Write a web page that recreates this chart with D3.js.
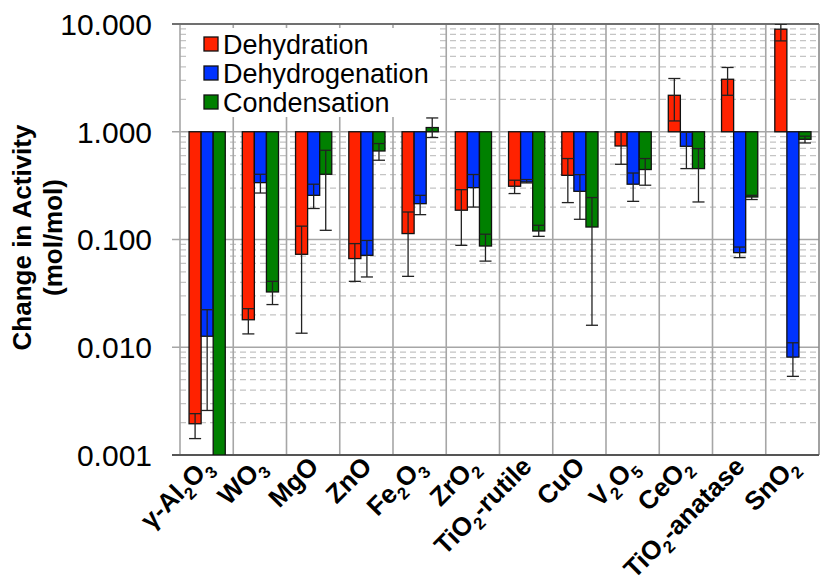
<!DOCTYPE html>
<html>
<head>
<meta charset="utf-8">
<script src="https://cdn.jsdelivr.net/npm/d3@7"></script>
<style>
  body { margin: 0; background: #fff; }
  svg { display: block; font-family: "Liberation Sans", Arial, Helvetica, sans-serif; }
</style>
</head>
<body>
<div id="chart"></div>
<script>
////////////////////////////  Data  ////////////////////////////
// "_n" = subscript digit
const categories = ["γ-Al_2O_3", "WO_3", "MgO", "ZnO", "Fe_2O_3", "ZrO_2", "TiO_2-rutile",
  "CuO", "V_2O_5", "CeO_2", "TiO_2-anatase", "SnO_2"];
const seriesNames = ["Dehydration", "Dehydrogenation", "Condensation"];
const seriesColors = ["#ff2200", "#0033ff", "#008000"];

const dehydration   = [0.00195, 0.018, 0.0729, 0.0665, 0.1135, 0.187, 0.312, 0.394, 0.738, 2.18, 3.07, 8.95];
const dehydrationLo = [0.00142, 0.0133, 0.0135, 0.0409, 0.0455, 0.0883, 0.267, 0.22, 0.499, 1.26, 2.18, 6.97];
const dehydrationHi = [0.00242, 0.0228, 0.133, 0.0916, 0.18, 0.29, 0.355, 0.564, 0.99, 3.12, 3.95, 9.96];

const dehydrogenation   = [0.01265, 0.337, 0.257, 0.0713, 0.215, 0.303, 0.342, 0.28, 0.326, 0.733, 0.0755, 0.0081];
const dehydrogenationLo = [0.00259, 0.27, 0.194, 0.0449, 0.17, 0.2, 0.335, 0.154, 0.226, 0.455, 0.0679, 0.00537];
const dehydrogenationHi = [0.0223, 0.403, 0.326, 0.098, 0.257, 0.401, 0.36, 0.40, 0.414, 0.99, 0.0851, 0.011];

const condensation   = [0.0005, 0.0326, 0.403, 0.663, 1.094, 0.087, 0.12, 0.1306, 0.446, 0.455, 0.248, 0.851];
const condensationLo = [null, 0.0249, 0.1217, 0.544, 0.884, 0.063, 0.107, 0.016, 0.319, 0.223, 0.235, 0.787];
const condensationHi = [null, 0.0409, 0.673, 0.777, 1.343, 0.112, 0.1355, 0.245, 0.564, 0.698, 0.257, 0.91];

const tickValues = [0.001, 0.01, 0.1, 1, 10];
const tickLabels = ["0.001", "0.010", "0.100", "1.000", "10.000"];

////////////////////////////  Init  ////////////////////////////
const width = 821, height = 584;
const margin = { top: 24, right: 2, bottom: 129, left: 180 };

const svg = d3.select("#chart").append("svg")
  .attr("width", width).attr("height", height);

const xScale = d3.scaleBand().domain(categories)
  .range([margin.left, width - margin.right]);
const bw = xScale.bandwidth();
const xSub = d3.scaleBand().domain(seriesNames).range([bw * 0.17, bw * 0.85]);
const yScale = d3.scaleLog().domain([0.001, 10])
  .range([height - margin.bottom, margin.top]).clamp(true);

const rows = [];
categories.forEach((c, i) => {
  [[dehydration, dehydrationLo, dehydrationHi],
   [dehydrogenation, dehydrogenationLo, dehydrogenationHi],
   [condensation, condensationLo, condensationHi]].forEach((s, j) => {
    rows.push({ cat: c, series: seriesNames[j], color: seriesColors[j],
      value: s[0][i], lo: s[1][i], hi: s[2][i] });
  });
});

const x0 = margin.left, x1 = width - margin.right;
const y0 = margin.top, y1 = height - margin.bottom;

////////////////////////////  Grid  ////////////////////////////
const minor = yScale.ticks().filter(v => !tickValues.some(t => Math.abs(t - v) / t < 1e-6));
svg.append("g").selectAll("line").data(minor).join("line")
  .attr("x1", x0).attr("x2", x1)
  .attr("y1", d => yScale(d)).attr("y2", d => yScale(d))
  .attr("stroke", "#c4c4c4").attr("stroke-width", 1.2)
  .attr("stroke-dasharray", "6,4");

svg.append("g").selectAll("line").data(tickValues.slice(1, -1)).join("line")
  .attr("x1", x0 - 8).attr("x2", x1)
  .attr("y1", d => yScale(d)).attr("y2", d => yScale(d))
  .attr("stroke", "#a6a6a6").attr("stroke-width", 1.6);

svg.append("g").selectAll("line").data(categories.slice(1)).join("line")
  .attr("x1", d => xScale(d)).attr("x2", d => xScale(d))
  .attr("y1", y0).attr("y2", y1)
  .attr("stroke", "#a6a6a6").attr("stroke-width", 1.6);

// legend background
svg.append("rect").attr("x", 188).attr("y", 28).attr("width", 252).attr("height", 89)
  .attr("fill", "#fff");

// frame
svg.append("line").attr("x1", x1).attr("x2", x1).attr("y1", y0).attr("y2", y1)
  .attr("stroke", "#8a8a8a").attr("stroke-width", 1.6);
svg.append("line").attr("x1", x0).attr("x2", x0).attr("y1", y0).attr("y2", y1)
  .attr("stroke", "#a6a6a6").attr("stroke-width", 1.6);
svg.append("line").attr("x1", x0 - 8).attr("x2", x1).attr("y1", y0).attr("y2", y0)
  .attr("stroke", "#707070").attr("stroke-width", 2);
svg.append("line").attr("x1", x0 - 8).attr("x2", x1).attr("y1", y1).attr("y2", y1)
  .attr("stroke", "#555").attr("stroke-width", 2);

////////////////////////////  Bars  ////////////////////////////
svg.append("clipPath").attr("id", "plot-clip").append("rect")
  .attr("x", x0).attr("y", y0).attr("width", x1 - x0).attr("height", y1 - y0);

const plot = svg.append("g").attr("clip-path", "url(#plot-clip)");
const sw = xSub.bandwidth();

plot.selectAll("rect.bar").data(rows).join("rect")
  .attr("class", "bar")
  .attr("x", d => xScale(d.cat) + xSub(d.series))
  .attr("width", sw)
  .attr("y", d => Math.min(yScale(1), yScale(d.value)))
  .attr("height", d => Math.abs(yScale(d.value) - yScale(1)))
  .attr("fill", d => d.color)
  .attr("stroke", "#111").attr("stroke-width", 1.3);

const errRows = rows.filter(d => d.lo != null);
const eb = plot.append("g").attr("stroke", "#222").attr("stroke-width", 1.3);
eb.selectAll("line.v").data(errRows).join("line").attr("class", "v")
  .attr("x1", d => xScale(d.cat) + xSub(d.series) + sw / 2)
  .attr("x2", d => xScale(d.cat) + xSub(d.series) + sw / 2)
  .attr("y1", d => yScale(d.lo)).attr("y2", d => yScale(d.hi));
["lo", "hi"].forEach(k => {
  eb.selectAll("line.c" + k).data(errRows).join("line").attr("class", "c" + k)
    .attr("x1", d => xScale(d.cat) + xSub(d.series))
    .attr("x2", d => xScale(d.cat) + xSub(d.series) + sw)
    .attr("y1", d => yScale(d[k])).attr("y2", d => yScale(d[k]));
});

////////////////////////////  Axes  ////////////////////////////
svg.append("g").selectAll("text").data(tickValues).join("text")
  .attr("x", 152).attr("y", d => yScale(d))
  .attr("dy", "0.36em")
  .attr("text-anchor", "end")
  .style("font-size", "30px")
  .text((d, i) => tickLabels[i]);

const yTitle = svg.append("text")
  .attr("transform", `translate(31,${(y0 + y1) / 2 - 2}) rotate(-90)`)
  .attr("text-anchor", "middle")
  .style("font-size", "26px").style("font-weight", "bold");
yTitle.append("tspan").attr("x", 0).attr("y", 0).text("Change in Activity");
yTitle.append("tspan").attr("x", 0).attr("y", 31).text("(mol/mol)");

// x labels with subscripts
const xl = svg.append("g").selectAll("text").data(categories).join("text")
  .attr("transform", d => `translate(${xScale(d) + bw / 2 + 7},${y1 + 13}) rotate(-45)`)
  .attr("text-anchor", "end")
  .style("font-size", "26px").style("font-weight", "bold");
xl.each(function (d) {
  const t = d3.select(this);
  const parts = d.split(/(_\d)/).filter(p => p !== "");
  let shifted = false;
  parts.forEach(p => {
    if (p[0] === "_") {
      t.append("tspan").attr("dy", 7).style("font-size", "17px").text(p.slice(1));
      shifted = true;
    } else {
      t.append("tspan").attr("dy", shifted ? -7 : 0).text(p);
      shifted = false;
    }
  });
});

////////////////////////////  Legend  ////////////////////////////
const lg = svg.append("g").selectAll("g").data(seriesNames).join("g")
  .attr("transform", (d, i) => `translate(204,${44 + i * 29})`);
lg.append("rect").attr("x", 0).attr("y", -7).attr("width", 14).attr("height", 14)
  .attr("fill", (d, i) => seriesColors[i]).attr("stroke", "#111").attr("stroke-width", 1.3);
lg.append("text").attr("x", 19).attr("y", 10)
  .style("font-size", "27px").text(d => d);
</script>
</body>
</html>
